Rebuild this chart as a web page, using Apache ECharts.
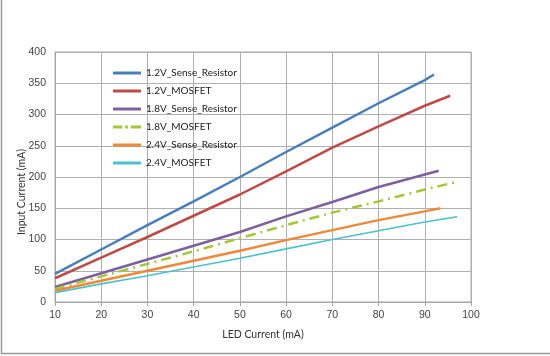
<!DOCTYPE html>
<html><head><meta charset="utf-8">
<script src="https://cdn.jsdelivr.net/npm/echarts@6/dist/echarts.min.js"></script>
<style>html,body{margin:0;padding:0;background:#fff}#c{width:550px;height:356px}</style>
</head><body><div id="c"></div>
<script>
const seriesNames = ['1.2V_Sense_Resistor','1.2V_MOSFET','1.8V_Sense_Resistor','1.8V_MOSFET','2.4V_Sense_Resistor','2.4V_MOSFET'];
const led_12S = [10,20,30,40,50,60,70,80,90,92];
const val_12S = [45,84,123,161,200,240,279,318,355,364];
const led_12M = [10,20,30,40,50,60,70,80,90,95.5];
const val_12M = [38,71,104,138,172,209,247,281,314,330];
const led_18S = [10,20,30,40,50,60,70,80,90,93];
const val_18S = [24,46,68,90,112,137,160,184,204,210];
const led_18M = [10,20,30,40,50,60,70,80,90,96.5];
const val_18M = [21,41,61,81,102,123,143,161,180,191.5];
const led_24S = [10,20,30,40,50,60,70,80,90,93.4];
const val_24S = [18,34,50,66,82,99,115,131,145,150];
const led_24M = [10,20,30,40,50,60,70,80,90,97];
const val_24M = [15,29,42,56,70,85,100,114,128,136.5];
const xTicks = [10,20,30,40,50,60,70,80,90,100];
const yTicks = [0,50,100,150,200,250,300,350,400];

const colors = ['#4A7EBB','#BE4B48','#7D60A0','#A5C63B','#F0883A','#4BC0CF'];
const xs = [led_12S,led_12M,led_18S,led_18M,led_24S,led_24M];
const ys = [val_12S,val_12M,val_18S,val_18M,val_24S,val_24M];
const font = 'Liberation Sans';
const narrow = 'Lato';
const solidIcon = 'path://M0,0H30V3H0Z';
const thinIcon = 'path://M0,0.5H30V2.5H0Z';
const dashIcon = 'path://M0,0H10V3H0Z M13,0H16V3H13Z M19,0H30V3H19Z';

const chart = echarts.init(document.getElementById('c'), null, {renderer:'canvas'});
chart.setOption({
  animation:false,
  textStyle:{fontFamily:font},
  graphic:[
    {type:'rect',shape:{x:1.5,y:-2,width:560,height:355.5},style:{fill:'none',stroke:'#9a9a9a',lineWidth:1.5},silent:true},
    {type:'text',x:22,y:192,rotation:Math.PI/2,style:{text:'Input Current (mA)',fontSize:10.5,fontFamily:narrow,fill:'#333',align:'center',verticalAlign:'middle'},silent:true}
  ],
  grid:{left:55,right:79,top:52,bottom:54,show:true,borderColor:'#a6a6a6',borderWidth:1},
  legend:{
    orient:'vertical',left:108,top:62,itemWidth:28,itemHeight:3,itemGap:6,
    symbolKeepAspect:false,
    textStyle:{fontFamily:narrow,fontSize:10,color:'#222',lineHeight:12},
    data:seriesNames.map((n,i)=>({name:n,icon:i===3?dashIcon:(i===5?thinIcon:solidIcon),itemStyle:{color:colors[i]}}))
  },
  xAxis:{
    type:'value',min:10,max:100,interval:10,
    name:'LED Current (mA)',nameLocation:'middle',nameGap:27,
    nameTextStyle:{fontSize:10.5,color:'#333',fontFamily:narrow},
    axisLine:{lineStyle:{color:'#a6a6a6'}},
    axisTick:{show:true,length:4,lineStyle:{color:'#a6a6a6'}},
    axisLabel:{fontSize:10.5,color:'#444',margin:8,formatter:v=>xTicks.includes(v)?String(v):''},
    splitLine:{lineStyle:{color:'#b0b0b0'}}
  },
  yAxis:{
    type:'value',min:0,max:400,interval:50,
    axisLine:{show:true,lineStyle:{color:'#a6a6a6'}},
    axisTick:{show:false},
    axisLabel:{fontSize:10.5,color:'#444',margin:9,formatter:v=>yTicks.includes(v)?String(v):''},
    splitLine:{lineStyle:{color:'#b0b0b0'}}
  },
  series: seriesNames.map((n,i)=>({
    name:n,type:'line',symbol:'none',
    data: xs[i].map((x,j)=>[x,ys[i][j]]),
    lineStyle:{color:colors[i],width:i===5?1.6:2.5,type:i===3?[10,5,2,5]:'solid'},
    itemStyle:{color:colors[i]}
  }))
});
</script></body></html>
